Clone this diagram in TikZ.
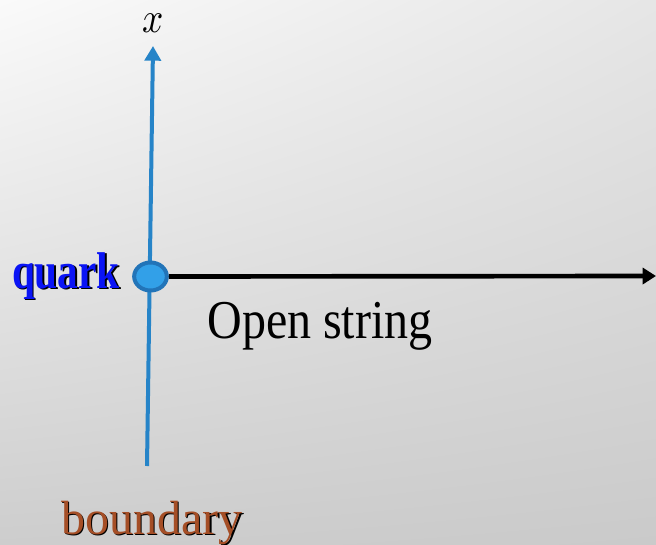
\documentclass[tikz,border=0pt]{standalone}
\usepackage{fontspec}
\setmainfont{Liberation Serif}
\usepackage{unicode-math}
\setmathfont{Latin Modern Math}
\usetikzlibrary{arrows.meta,shapes.geometric,shadings}
\definecolor{axisblue}{RGB}{38,132,200}
\definecolor{dotfill}{RGB}{50,160,232}
\definecolor{dotedge}{RGB}{34,116,184}
\definecolor{quarkblue}{RGB}{10,20,245}
\definecolor{bdbrown}{RGB}{165,78,38}
\definecolor{bgul}{RGB}{250,250,250}
\definecolor{bgur}{RGB}{230,230,230}
\definecolor{bgll}{RGB}{205,205,205}
\definecolor{bglr}{RGB}{202,202,202}
\tikzset{
  lbl/.style={inner sep=0pt, anchor=base, font=\fontsize{36}{40}\selectfont},
  qlbl/.style={inner sep=0pt, anchor=base, font=\fontsize{31}{34}\selectfont\bfseries},
}
\begin{document}
\begin{tikzpicture}[x=0.75pt,y=-0.75pt]
\shade[upper left=bgul, upper right=bgur, lower left=bgll, lower right=bglr]
  (0,0) rectangle (656,545);
\useasboundingbox (0,0) rectangle (656,545);
\coordinate (bot) at (147,466);
\coordinate (top) at (153,46);
\coordinate (end) at (656,276);
\draw[axisblue, line width=3pt, -{Triangle[length=11pt,width=12pt]}] (bot) -- (top);
\node[inner sep=0pt, font=\fontsize{28}{30}\selectfont] (xl) at (153.5,23) {\scalebox{1}[1.15]{$x$}};
\node[ellipse, draw=dotedge, fill=dotfill, line width=3pt, minimum width=24.5pt, minimum height=21pt, inner sep=0pt] (q) at (150.5,276.5) {};
\draw[black, line width=3.5pt, -{Triangle[length=10pt,width=12pt]}] (q.east) -- (end);
\node[lbl, black] (osl) at (320,338) {\scalebox{1}[1.14]{Open string}};
\node[qlbl, black] (qs) at (67.5,289.5) {\scalebox{1}[1.25]{quark}};
\node[qlbl, quarkblue] (ql) at (66,288) {\scalebox{1}[1.25]{quark}};
\node[lbl, black] (bs) at (153.5,535.5) {boundary};
\node[lbl, bdbrown] (bl) at (152,534) {boundary};
\end{tikzpicture}
\end{document}
